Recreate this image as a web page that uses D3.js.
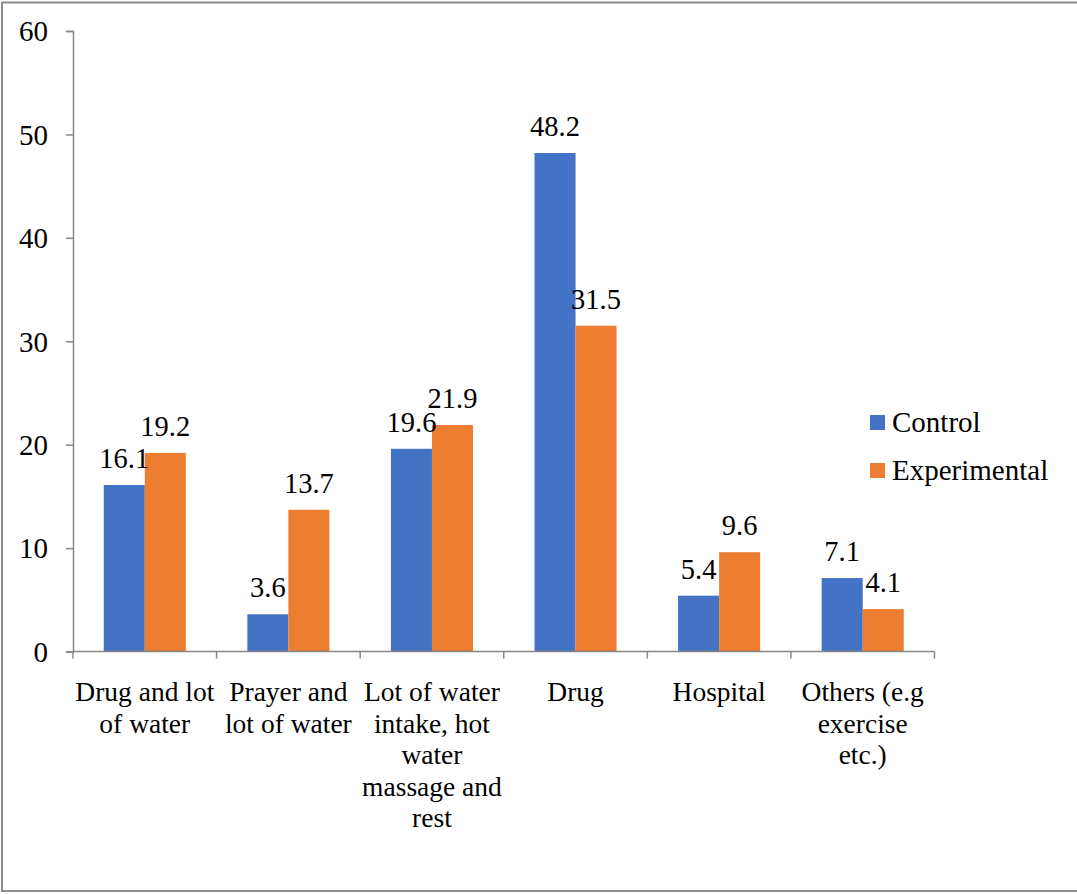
<!DOCTYPE html>
<html>
<head>
<meta charset="utf-8">
<script src="https://cdn.jsdelivr.net/npm/d3@7"></script>
<style>
  html, body { margin: 0; padding: 0; background: #fff; }
  svg { display: block; }
  svg text { font-family: 'Times New Roman', 'Liberation Serif', 'DejaVu Serif', serif; }
</style>
</head>
<body>
<svg id="chart" width="1077" height="894"></svg>
<script>
// Treatment categories (label lines as drawn under the axis)
const categories = [
  ["Drug and lot", "of water"],
  ["Prayer and", "lot of water"],
  ["Lot of water", "intake, hot", "water", "massage and", "rest"],
  ["Drug"],
  ["Hospital"],
  ["Others (e.g", "exercise", "etc.)"]
];
const seriesNames = ["Control", "Experimental"];
const controlValues = [16.1, 3.6, 19.6, 48.2, 5.4, 7.1];
const experimentalValues = [19.2, 13.7, 21.9, 31.5, 9.6, 4.1];
const yTicks = [0, 10, 20, 30, 40, 50, 60];
const colors = ["#4472C4", "#ED7D31"];

const FONT = "'Times New Roman', 'Liberation Serif', 'DejaVu Serif', serif";

const svg = d3.select("#chart");
const W = 1077, H = 894;

// Outer frame (right edge runs past the canvas)
svg.append("rect")
  .attr("x", 2).attr("y", 2.5)
  .attr("width", W + 10).attr("height", 888.5)
  .attr("fill", "none").attr("stroke", "#8c8c8c").attr("stroke-width", 2);

const plot = { left: 73, right: 934.5, top: 31, bottom: 651.5 };
const axisColor = "#868686";

const x0 = d3.scaleBand()
  .domain(d3.range(categories.length))
  .range([plot.left, plot.right])
  .paddingInner(0).paddingOuter(0);

// Bar width follows a 150% gap between groups
const barW = x0.bandwidth() / 3.5;
const x1 = d3.scaleBand()
  .domain([0, 1])
  .range([0, barW * 2]);

const y = d3.scaleLinear().domain([0, 60]).range([plot.bottom, plot.top]);

const rows = categories.map((c, i) => ({
  i,
  values: [controlValues[i], experimentalValues[i]]
}));

// Bars
const groups = svg.append("g").selectAll("g")
  .data(rows).join("g")
  .attr("transform", d => `translate(${x0(d.i) + (x0.bandwidth() - barW * 2) / 2},0)`);

groups.selectAll("rect")
  .data(d => d.values.map((v, s) => ({ v, s })))
  .join("rect")
  .attr("x", d => x1(d.s))
  .attr("width", x1.bandwidth())
  .attr("y", d => y(d.v))
  .attr("height", d => y(0) - y(d.v))
  .attr("fill", d => colors[d.s]);

// Value labels above the bars
groups.selectAll("text")
  .data(d => d.values.map((v, s) => ({ v, s })))
  .join("text")
  .attr("x", d => x1(d.s) + x1.bandwidth() / 2)
  .attr("y", d => y(d.v) - 17)
  .attr("text-anchor", "middle")
  .attr("font-family", FONT)
  .attr("font-size", 28.5)
  .attr("fill", "#000")
  .text(d => d.v.toFixed(1));

// Y axis
const yAxis = d3.axisLeft(y).tickValues(yTicks).tickSize(7).tickPadding(0).tickFormat(d3.format("d"));
const yg = svg.append("g").attr("transform", `translate(${plot.left},0)`).call(yAxis)
  .attr("font-family", FONT);
yg.select(".domain").attr("stroke", axisColor).attr("stroke-width", 1.5);
yg.selectAll(".tick line").attr("stroke", axisColor).attr("stroke-width", 1.5);
yg.selectAll(".tick text")
  .attr("x", -25)
  .attr("dy", "0.34em")
  .attr("font-size", 29)
  .attr("font-family", FONT)
  .attr("fill", "#000");

// X axis line with boundary ticks
const xg = svg.append("g");
xg.append("line")
  .attr("x1", plot.left).attr("x2", plot.right)
  .attr("y1", y(0)).attr("y2", y(0))
  .attr("stroke", axisColor).attr("stroke-width", 1.5);
const bounds = d3.range(categories.length + 1).map(i => i < categories.length ? x0(i) : plot.right);
xg.selectAll("line.tk").data(bounds).join("line")
  .attr("class", "tk")
  .attr("x1", d => d).attr("x2", d => d)
  .attr("y1", y(0)).attr("y2", y(0) + 7)
  .attr("stroke", axisColor).attr("stroke-width", 1.5);

// Category labels
const catG = svg.append("g");
categories.forEach((lines, i) => {
  const t = catG.append("text")
    .attr("text-anchor", "middle")
    .attr("font-family", FONT)
    .attr("font-size", 27.5)
    .attr("fill", "#000");
  lines.forEach((ln, k) => {
    t.append("tspan")
      .attr("x", x0(i) + x0.bandwidth() / 2)
      .attr("y", 701 + k * 31.5)
      .text(ln);
  });
});

// Legend
const legend = svg.append("g");
seriesNames.forEach((name, s) => {
  const ly = 415 + s * 48;
  legend.append("rect")
    .attr("x", 870).attr("y", ly)
    .attr("width", 15).attr("height", 15)
    .attr("fill", colors[s]);
  legend.append("text")
    .attr("x", 892).attr("y", ly + 17)
    .attr("font-family", FONT)
    .attr("font-size", 29)
    .attr("fill", "#000")
    .text(name);
});
</script>
</body>
</html>
